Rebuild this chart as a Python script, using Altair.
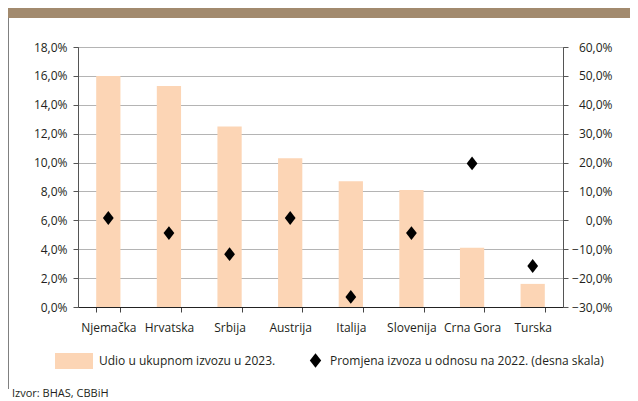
import altair as alt
import pandas as pd

countries = ["Njemačka", "Hrvatska", "Srbija", "Austrija", "Italija", "Slovenija", "Crna Gora", "Turska"]
share_2023 = [16.0, 15.3, 12.5, 10.3, 8.7, 8.1, 4.1, 1.6]
change_vs_2022 = [0.8, -4.4, -11.7, 0.8, -26.5, -4.4, 19.7, -15.8]
left_ticks = [0, 2, 4, 6, 8, 10, 12, 14, 16, 18]
right_ticks = [-30, -20, -10, 0, 10, 20, 30, 40, 50, 60]
bar_label = "Udio u ukupnom izvozu u 2023."
point_label = "Promjena izvoza u odnosu na 2022. (desna skala)"
source_text = "Izvor: BHAS, CBBiH"

df = pd.DataFrame({"country": countries, "share": share_2023, "change": change_vs_2022,
                   "s1": bar_label, "s2": point_label})

FONT = "Open Sans"
TXT = "#231f20"
DIAMOND = "M0,-1.15L0.9,0L0,1.15L-0.9,0Z"
RECT = "M-1,-0.42H1V0.42H-1Z"
fmt = "replace(format(datum.value, '.1f'), '.', ',') + '%'"

x_enc = alt.X(
    "country:N", sort=countries, title=None,
    scale=alt.Scale(paddingInner=0.6, paddingOuter=0.3),
    axis=alt.Axis(labelAngle=0, tickBand="extent", tickSize=5, tickColor="#444",
                  domainColor="#222", labelPadding=10, labelFontSize=12,
                  labelColor=TXT, labelFont=FONT, grid=False),
)

bars = alt.Chart(df).mark_bar(opacity=1).encode(
    x=x_enc,
    y=alt.Y("share:Q", title=None,
            scale=alt.Scale(domain=[0, 18], nice=False),
            axis=alt.Axis(orient="left", values=left_ticks, labelExpr=fmt, tickSize=5,
                          tickColor="#555", domainColor="#555", grid=True,
                          gridColor="#b4b4b4", labelPadding=6, labelFontSize=12,
                          labelColor=TXT, labelFont=FONT)),
    color=alt.Color("s1:N", scale=alt.Scale(range=["#fcd5b5"]),
                    legend=alt.Legend(title=None, orient="none", legendX=-23, legendY=295,
                                      symbolType=RECT, symbolSize=1444, symbolStrokeWidth=0,
                                      symbolOpacity=1, labelOffset=6, labelFontSize=12,
                                      labelFont=FONT, labelColor=TXT, labelLimit=400,
                                      padding=0)),
)

points = alt.Chart(df).mark_point(filled=True, size=144, opacity=1, color="black").encode(
    x=alt.X("country:N", sort=countries),
    y=alt.Y("change:Q", title=None,
            scale=alt.Scale(domain=[-30, 60], nice=False),
            axis=alt.Axis(orient="right", values=right_ticks, labelExpr=fmt, tickSize=5,
                          tickColor="#555", domainColor="#555", grid=False,
                          labelAlign="right", labelPadding=44, labelFontSize=12,
                          labelColor=TXT, labelFont=FONT)),
    shape=alt.Shape("s2:N", scale=alt.Scale(range=[DIAMOND]),
                    legend=alt.Legend(title=None, orient="none", legendX=231, legendY=307,
                                      symbolSize=160, symbolFillColor="black",
                                      symbolStrokeWidth=0, symbolOpacity=1, labelOffset=8,
                                      labelFontSize=12, labelFont=FONT, labelColor=TXT,
                                      labelLimit=400, padding=0)),
)

deco = pd.DataFrame({"k": [0]})
header = alt.Chart(deco).mark_rect(color="#a28a6e").encode(
    x=alt.value(-70), x2=alt.value(552), y=alt.value(-39), y2=alt.value(-29))
border = alt.Chart(deco).mark_rule(color="#808080", strokeWidth=1).encode(
    x=alt.value(-69.5), y=alt.value(-29), y2=alt.value(342))
source = alt.Chart(deco).mark_text(align="left", baseline="alphabetic", fontSize=11,
                                   font=FONT, color=TXT).encode(
    x=alt.value(-66), y=alt.value(350), text=alt.value(source_text))

chart = alt.layer(bars, points, header, border, source).resolve_scale(
    y="independent", color="independent", shape="independent"
).properties(
    width=485, height=260,
    autosize=alt.AutoSizeParams(type="none"),
    padding={"left": 70, "top": 39, "right": 67, "bottom": 94},
).configure_view(stroke="#666", strokeWidth=1)

chart.save("out.html", embed_options={"renderer": "svg", "actions": False})
